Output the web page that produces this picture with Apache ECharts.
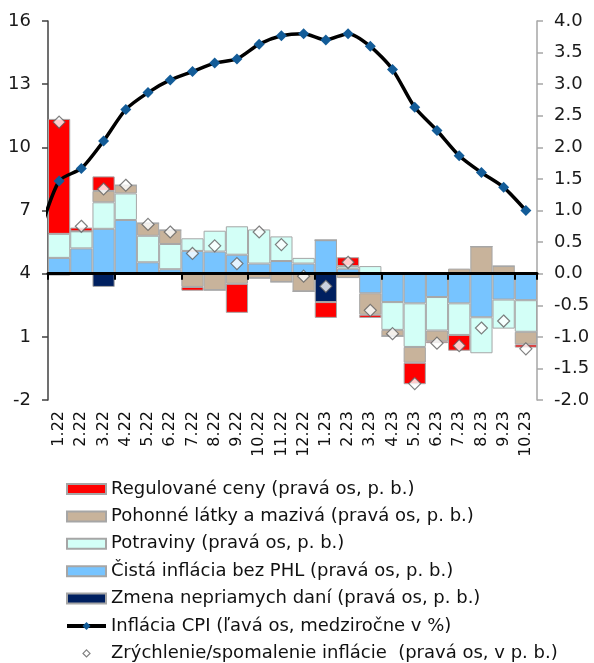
<!DOCTYPE html>
<html><head><meta charset="utf-8">
<script src="https://cdn.jsdelivr.net/npm/echarts@6/dist/echarts.min.js"></script>
<style>html,body{margin:0;padding:0;background:#fff}#c{width:594px;height:663px}</style>
</head><body><div id="c"></div>
<script>
const categories = ['1.22','2.22','3.22','4.22','5.22','6.22','7.22','8.22','9.22','10.22','11.22','12.22','1.23','2.23','3.23','4.23','5.23','6.23','7.23','8.23','9.23','10.23'];
const regulated = [1.82, 0.06, 0.23, 0, 0, 0, -0.06, 0, -0.46, 0, 0, 0, -0.25, 0.14, -0.05, 0, -0.34, -0.03, -0.25, 0, 0, -0.05];
const fuel = [-0.03, 0, 0.18, 0.13, 0.20, 0.22, -0.21, -0.26, -0.16, -0.07, -0.13, -0.28, 0, -0.07, -0.34, -0.10, -0.25, -0.17, 0.08, 0.43, 0.12, -0.20];
const food = [0.38, 0.27, 0.42, 0.42, 0.42, 0.40, 0.20, 0.33, 0.45, 0.54, 0.39, 0.09, 0, 0.04, 0.12, -0.44, -0.69, -0.53, -0.50, -0.57, -0.46, -0.50];
const core = [0.25, 0.40, 0.71, 0.85, 0.18, 0.07, 0.36, 0.35, 0.30, 0.16, 0.20, 0.16, 0.53, 0.08, -0.31, -0.45, -0.47, -0.37, -0.47, -0.69, -0.41, -0.42];
const tax = [0, 0, -0.21, 0, 0, 0, 0, 0, 0, 0, 0, 0, -0.45, 0, 0, 0, 0, 0, 0, 0, 0, 0];
const cpi = [8.4, 9.0, 10.3, 11.8, 12.6, 13.2, 13.6, 14.0, 14.2, 14.9, 15.3, 15.4, 15.1, 15.4, 14.8, 13.7, 11.9, 10.8, 9.6, 8.8, 8.1, 7.0];
const cpiPrevMonth = 5.5; // 12.21, only visible as the clipped line entering from the left edge
const accel = [2.40, 0.75, 1.34, 1.40, 0.78, 0.66, 0.32, 0.44, 0.16, 0.66, 0.46, -0.04, -0.20, 0.18, -0.58, -0.95, -1.74, -1.10, -1.14, -0.86, -0.75, -1.19];
const leftTicks = [-2, 1, 4, 7, 10, 13, 16];

const names = {
  reg: 'Regulované ceny (pravá os, p. b.)',
  fuel: 'Pohonné látky a mazivá (pravá os, p. b.)',
  food: 'Potraviny (pravá os, p. b.)',
  core: 'Čistá inflácia bez PHL (pravá os, p. b.)',
  tax: 'Zmena nepriamych daní (pravá os, p. b.)',
  cpi: 'Inflácia CPI (ľavá os, medziročne v %)',
  acc: 'Zrýchlenie/spomalenie inflácie  (pravá os, v p. b.)'
};
const FONT = 'DejaVu Sans';
// small diamond centred in a 39x10 legend box (the lone moves only set the box bounds)
const legendDiamond = 'path://M0,0M39,10M19.5,1.5L23,5L19.5,8.5L16,5Z';
const chart = echarts.init(document.getElementById('c'), null, {renderer: 'canvas'});
function bar(name, data, color) {
  return {
    name, type: 'bar', data, stack: 'a', xAxisIndex: 0, yAxisIndex: 1,
    barCategoryGap: '0%', barGap: '0%',
    itemStyle: {color, borderColor: '#a6a6a6', borderWidth: 1},
    emphasis: {disabled: true}
  };
}
const cpiData = [[-1, cpiPrevMonth]].concat(cpi.map((v, i) => [i, v]));
chart.setOption({
  animation: false,
  textStyle: {fontFamily: FONT},
  grid: {left: 48, right: 57, top: 21, bottom: 263, containLabel: false},
  legend: {
    orient: 'vertical', left: 60, top: 475, height: 190, itemWidth: 39, itemHeight: 10, itemGap: 9.4,
    textStyle: {fontFamily: FONT, fontSize: 18, lineHeight: 18, color: '#111'},
    selectedMode: false,
    data: [
      {name: names.reg, icon: 'rect'},
      {name: names.fuel, icon: 'rect'},
      {name: names.food, icon: 'rect'},
      {name: names.core, icon: 'rect'},
      {name: names.tax, icon: 'rect'},
      {name: names.cpi, lineStyle: {width: 4, color: '#000'}},
      {name: names.acc, icon: legendDiamond, itemStyle: {color: '#fff', borderColor: '#606060', borderWidth: 1.2}}
    ]
  },
  xAxis: [
    {type: 'category', data: categories, position: 'bottom', axisLine: {show: false}, axisTick: {show: false},
     axisLabel: {rotate: 90, fontSize: 16, color: '#111', margin: 11, fontFamily: FONT, interval: 0}},
    {type: 'category', data: categories, position: 'bottom',
     axisLine: {onZero: true, onZeroAxisIndex: 1, lineStyle: {color: '#000', width: 3}},
     axisTick: {show: true, length: 6, lineStyle: {color: '#000', width: 2}},
     axisLabel: {show: false}, z: 10}
  ],
  yAxis: [
    {type: 'value', min: -2, max: 16, position: 'left',
     axisLine: {show: true, lineStyle: {color: '#404040', width: 1.5}},
     axisTick: {show: true, length: 6, customValues: leftTicks, lineStyle: {color: '#404040', width: 1.5}},
     axisLabel: {customValues: leftTicks, fontSize: 18, color: '#1a1a1a', margin: 17, fontFamily: FONT},
     splitLine: {show: false}},
    {type: 'value', min: -2, max: 4, interval: 0.5, position: 'right',
     axisLine: {show: true, lineStyle: {color: '#a6a6a6', width: 1.5}},
     axisTick: {show: true, length: 6, lineStyle: {color: '#a6a6a6', width: 1.5}},
     axisLabel: {fontSize: 18, color: '#1a1a1a', margin: 17, fontFamily: FONT, formatter: v => v.toFixed(1)},
     splitLine: {show: false}}
  ],
  series: [
    bar(names.tax, tax, '#002060'),
    bar(names.core, core, '#77c4ff'),
    bar(names.food, food, '#d3fff7'),
    bar(names.fuel, fuel, '#c8b39b'),
    bar(names.reg, regulated, '#ff0000'),
    {name: names.cpi, type: 'line', data: cpiData, xAxisIndex: 0, yAxisIndex: 0, smooth: 0.25, clip: true,
     symbol: 'diamond', symbolSize: 11, z: 5,
     lineStyle: {color: '#000', width: 3.5},
     itemStyle: {color: '#135c98', borderWidth: 0},
     emphasis: {disabled: true}},
    {name: names.acc, type: 'scatter', data: accel, xAxisIndex: 0, yAxisIndex: 1,
     symbol: 'diamond', symbolSize: 12, z: 6,
     itemStyle: {color: '#fff', borderColor: '#606060', borderWidth: 1.2},
     emphasis: {disabled: true}}
  ]
});
</script></body></html>
